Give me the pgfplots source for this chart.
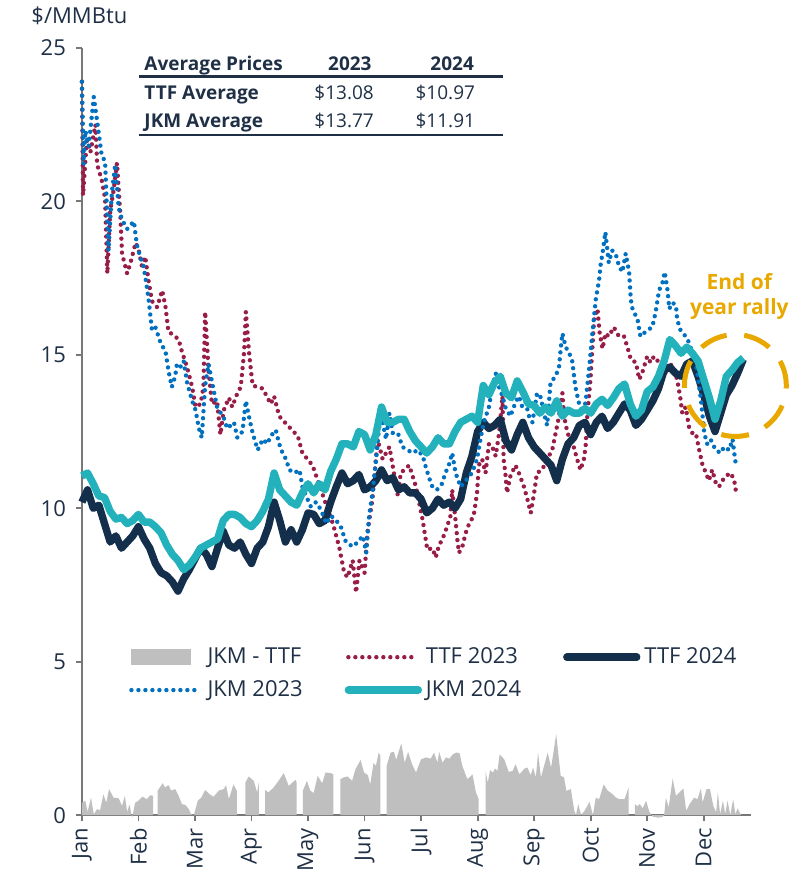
\documentclass[border=0pt]{standalone}
\usepackage{fontspec}
\setmainfont{Open Sans}
\usepackage{pgfplots}
\pgfplotsset{compat=1.18}

\definecolor{navy}{RGB}{20,47,75}
\definecolor{tealline}{RGB}{35,178,187}
\definecolor{maroonline}{RGB}{152,30,72}
\definecolor{blueline}{RGB}{0,112,192}
\definecolor{spreadgray}{RGB}{191,191,191}
\definecolor{gold}{RGB}{232,168,0}
\definecolor{txt}{RGB}{31,48,70}
\definecolor{axgray}{RGB}{120,120,120}

\tikzset{
  dotline/.style={line width=2.2pt, line cap=round, dash pattern=on 0pt off 3.5pt},
  thick24/.style={line width=3.7pt, line join=round}
}
\pgfplotsset{
  linelegend/.style={legend image code/.code={\draw[##1, line cap=round] (0pt,0pt) -- (35pt,0pt);}},
  arealegend/.style={legend image code/.code={\fill[spreadgray] (0pt,-4pt) rectangle (30pt,4pt);}}
}

\begin{document}
\begin{tikzpicture}
\begin{axis}[
  scale only axis, width=335pt, height=384pt,
  xmin=0, xmax=11.84, ymin=0, ymax=25,
  clip=false,
  axis x line*=bottom, axis y line*=left,
  axis line style={draw=axgray, line width=0.9pt, -},
  tick align=outside, major tick length=3pt,
  tick style={draw=axgray, line width=0.9pt},
  xtick={0,...,11},
  xticklabels={Jan,Feb,Mar,Apr,May,Jun,Jul,Aug,Sep,Oct,Nov,Dec},
  xticklabel style={rotate=90, anchor=east, font=\fontsize{11}{13}\selectfont, text=txt},
  ytick={0,5,10,15,20,25},
  yticklabel style={font=\fontsize{11}{13}\selectfont, text=txt, xshift=-1.5pt},
  /pgf/number format/assume math mode=true,
  legend columns=3,
  legend cell align=left,
  legend style={at={(axis cs:0.83,5.6)}, anchor=north west, draw=none, fill=none,
    font=\fontsize{11}{13}\selectfont, text=txt, inner sep=0pt, row sep=3pt,
    /tikz/every even column/.append style={column sep=19pt}},
]

% JKM - TTF spread (2024), split where days are missing
\addplot[draw=none, fill=spreadgray, arealegend]
  coordinates {(0.00,0.40)(0.06,0.47)(0.10,0.10)(0.16,0.57)(0.21,0.03)(0.27,0.20)(0.32,0.15)(0.38,0.68)(0.43,0.40)(0.48,0.85)(0.56,0.57)(0.65,0.55)(0.71,0.30)(0.76,0.63)(0.80,0.10)(0.84,0.35)(0.89,-0.08)(0.94,0.40)(1.00,0.47)(1.07,0.60)(1.15,0.52)(1.21,0.65)(1.26,0.63)} \closedcycle;
\addlegendentry{JKM - TTF}
\addplot[draw=none, fill=spreadgray, forget plot]
  coordinates {(1.34,0.80)(1.43,1.04)(1.47,0.90)(1.53,0.98)(1.58,0.80)(1.65,0.85)(1.71,0.63)(1.77,0.36)(1.83,0.33)(1.89,0.20)(1.93,0.03)(1.98,0.00)(2.05,0.47)(2.11,0.57)(2.18,0.82)(2.26,0.68)(2.33,0.60)(2.42,0.80)(2.51,0.85)(2.55,0.98)(2.60,0.52)(2.68,1.00)(2.74,0.80)} \closedcycle;
\addplot[draw=none, fill=spreadgray, forget plot]
  coordinates {(2.89,1.06)(2.95,1.26)(3.04,1.12)(3.10,0.74)(3.13,1.06)} \closedcycle;
\addplot[draw=none, fill=spreadgray, forget plot]
  coordinates {(3.24,0.82)(3.30,0.74)(3.39,0.90)(3.48,1.12)(3.57,1.37)(3.66,0.95)(3.72,1.06)(3.78,1.15)(3.80,1.06)} \closedcycle;
\addplot[draw=none, fill=spreadgray, forget plot]
  coordinates {(3.91,0.80)(3.98,1.12)(4.04,0.80)(4.10,0.72)(4.17,1.28)(4.25,1.04)(4.31,1.39)(4.40,1.37)(4.45,1.33)} \closedcycle;
\addplot[draw=none, fill=spreadgray, forget plot]
  coordinates {(4.57,1.17)(4.63,1.23)(4.70,1.26)(4.78,1.12)(4.84,1.50)(4.93,1.80)(4.99,1.39)(5.06,1.30)(5.10,1.00)(5.16,1.71)(5.20,1.60)(5.25,2.04)(5.28,1.93)} \closedcycle;
\addplot[draw=none, fill=spreadgray, forget plot]
  coordinates {(5.39,1.60)(5.46,2.04)(5.52,2.06)(5.56,1.80)(5.65,2.34)(5.71,1.71)(5.77,2.06)(5.84,1.66)(5.91,1.39)(6.00,1.82)(6.09,1.88)(6.17,1.84)(6.23,2.04)(6.29,1.71)(6.32,2.06)(6.38,1.71)(6.44,1.88)(6.50,1.84)(6.56,1.98)(6.62,2.04)(6.68,2.02)(6.73,1.60)(6.82,1.17)(6.91,1.33)(6.97,0.74)(7.02,0.52)} \closedcycle;
\addplot[draw=none, fill=spreadgray, forget plot]
  coordinates {(7.14,1.44)(7.18,1.06)(7.22,1.47)(7.27,1.39)(7.31,1.52)(7.35,1.44)(7.39,1.98)(7.47,1.82)(7.55,1.41)(7.62,1.44)(7.67,1.66)(7.74,1.33)(7.83,1.52)(7.88,1.55)(7.94,1.30)(7.98,1.55)(8.03,1.23)(8.07,2.04)(8.12,1.23)(8.24,2.04)(8.30,1.55)(8.39,2.64)(8.47,1.28)(8.53,1.23)(8.57,0.79)(8.65,0.85)(8.71,0.14)(8.74,0.00)(8.78,0.36)(8.83,0.00)(8.89,0.14)(8.98,0.43)(9.04,0.00)(9.09,0.57)(9.15,0.52)(9.23,1.00)(9.30,0.80)(9.39,0.68)(9.45,0.57)(9.51,0.52)(9.60,0.52)(9.67,0.90)} \closedcycle;
\addplot[draw=none, fill=spreadgray, forget plot]
  coordinates {(9.78,0.36)(9.83,0.29)(9.87,0.36)(9.92,0.22)(9.98,0.47)(10.04,0.10)(10.10,-0.05)(10.19,-0.08)(10.27,-0.06)(10.30,0.00)(10.33,0.57)(10.38,0.25)(10.45,1.19)(10.51,0.63)(10.57,0.74)(10.64,0.87)(10.69,0.14)(10.75,0.36)(10.83,0.57)(10.89,0.52)(10.95,0.87)(10.98,0.41)(11.05,0.85)(11.11,0.85)(11.17,0.30)(11.22,0.09)(11.25,0.74)(11.29,0.03)(11.34,0.47)(11.38,0.03)(11.42,0.47)(11.47,0.00)(11.52,0.52)(11.56,0.03)(11.60,0.22)(11.66,0.00)} \closedcycle;

% TTF 2023
\addplot[maroonline, dotline, linelegend]
  coordinates {(0.00,23.9)(0.02,20.2)(0.09,22.1)(0.15,21.6)(0.24,22.5)(0.27,21.2)(0.35,20.7)(0.41,20.1)(0.45,17.65)(0.50,19.7)(0.56,20.35)(0.62,21.25)(0.68,19.55)(0.71,18.3)(0.80,17.65)(0.86,18.0)(0.95,18.65)(1.00,18.45)(1.06,17.9)(1.12,18.2)(1.18,17.4)(1.24,16.75)(1.33,16.55)(1.42,17.1)(1.48,16.55)(1.53,15.75)(1.62,15.65)(1.71,15.5)(1.77,15.1)(1.86,14.6)(1.95,13.95)(2.01,13.3)(2.10,13.4)(2.15,13.95)(2.18,16.4)(2.24,14.5)(2.30,13.4)(2.39,13.5)(2.45,12.4)(2.51,13.2)(2.60,13.6)(2.66,13.3)(2.75,13.75)(2.81,13.95)(2.87,15.1)(2.90,16.4)(2.96,15.0)(3.02,14.0)(3.20,13.9)(3.34,13.4)(3.40,13.65)(3.49,13.0)(3.64,12.7)(3.82,12.35)(3.90,11.8)(4.08,11.4)(4.23,10.6)(4.35,9.95)(4.44,9.5)(4.55,8.75)(4.64,7.9)(4.70,7.75)(4.79,8.3)(4.85,7.25)(4.91,8.3)(5.00,7.9)(5.05,9.2)(5.14,10.3)(5.23,12.25)(5.32,11.6)(5.44,12.0)(5.59,10.4)(5.64,11.15)(5.79,11.4)(5.91,10.7)(6.03,9.6)(6.11,8.65)(6.20,8.7)(6.26,8.4)(6.31,8.75)(6.40,9.1)(6.46,9.4)(6.52,9.75)(6.55,10.6)(6.61,9.6)(6.64,9.0)(6.67,8.55)(6.73,8.75)(6.79,9.2)(6.85,9.5)(6.93,9.75)(6.99,10.5)(7.02,11.4)(7.08,11.6)(7.14,11.15)(7.20,12.1)(7.26,12.0)(7.32,11.7)(7.38,12.45)(7.44,13.65)(7.46,11.6)(7.49,11.15)(7.52,10.5)(7.58,11.05)(7.67,11.4)(7.73,11.15)(7.82,10.7)(7.88,10.3)(7.94,9.85)(8.00,10.5)(8.05,11.15)(8.14,11.25)(8.23,11.6)(8.32,11.9)(8.38,12.45)(8.44,13.0)(8.50,13.75)(8.53,13.0)(8.59,12.45)(8.64,12.25)(8.70,12.0)(8.76,11.6)(8.82,11.25)(8.88,11.6)(8.91,12.0)(8.94,13.0)(9.00,14.3)(9.06,16.15)(9.12,16.5)(9.16,15.7)(9.21,15.2)(9.26,15.7)(9.32,15.6)(9.41,15.9)(9.50,15.6)(9.59,15.6)(9.65,15.25)(9.71,14.85)(9.80,14.75)(9.86,14.2)(9.91,14.4)(10.00,14.95)(10.06,14.75)(10.12,14.95)(10.21,14.75)(10.30,14.3)(10.39,14.75)(10.45,14.6)(10.53,14.2)(10.59,13.55)(10.62,13.1)(10.68,13.3)(10.74,12.65)(10.80,12.45)(10.86,12.45)(10.92,11.9)(10.98,11.4)(11.04,11.15)(11.09,10.9)(11.15,11.25)(11.21,10.85)(11.27,10.7)(11.33,10.9)(11.39,11.05)(11.48,11.15)(11.54,10.9)(11.57,10.55)};
\addlegendentry{TTF 2023}

% TTF 2024
\addplot[navy, thick24, linelegend]
  coordinates {(0.0,10.2)(0.1,10.6)(0.2,10.0)(0.3,10.1)(0.4,9.5)(0.5,8.9)(0.6,9.1)(0.7,8.7)(0.8,8.9)(0.9,9.1)
  (1.0,9.4)(1.1,9.0)(1.2,8.7)(1.3,8.2)(1.4,7.9)(1.5,7.8)(1.6,7.6)(1.7,7.3)(1.8,7.7)(1.9,8.0)
  (2.0,8.35)(2.1,8.7)(2.2,8.5)(2.3,8.1)(2.4,8.7)(2.5,9.25)(2.6,8.8)(2.7,8.7)(2.8,8.9)(2.9,8.5)
  (3.0,8.2)(3.1,8.7)(3.2,8.9)(3.3,9.4)(3.4,10.2)(3.5,9.6)(3.6,8.9)(3.7,9.3)(3.8,8.9)(3.9,9.3)
  (4.0,9.85)(4.1,9.8)(4.2,9.5)(4.3,9.6)(4.4,10.2)(4.5,10.7)(4.6,11.15)(4.7,10.8)(4.8,10.9)(4.9,11.1)
  (5.0,10.6)(5.1,10.7)(5.2,10.9)(5.3,11.25)(5.4,10.9)(5.5,11.0)(5.6,10.6)(5.7,10.7)(5.8,10.5)(5.9,10.5)
  (6.0,10.3)(6.1,9.85)(6.2,10.0)(6.3,10.3)(6.4,10.1)(6.5,10.2)(6.6,10.0)(6.7,10.3)(6.8,11.15)(6.9,11.7)
  (7.0,12.5)(7.1,12.8)(7.2,12.6)(7.3,12.7)(7.4,12.9)(7.5,12.2)(7.6,11.9)(7.7,12.4)(7.8,12.8)(7.9,12.3)
  (8.0,12.0)(8.1,11.8)(8.2,11.6)(8.3,11.4)(8.4,10.9)(8.5,11.6)(8.6,12.1)(8.7,12.3)(8.8,12.7)(8.9,12.8)
  (9.0,12.4)(9.1,12.8)(9.2,13.0)(9.3,12.6)(9.4,12.8)(9.5,13.1)(9.6,13.4)(9.7,13.2)(9.8,12.7)(9.9,12.9)
  (10.0,13.2)(10.1,13.5)(10.2,13.9)(10.3,14.5)(10.4,14.6)(10.5,14.4)(10.6,14.3)(10.7,14.7)(10.8,14.8)(10.9,14.3)
  (11.0,13.7)(11.1,13.0)(11.2,12.5)(11.3,13.1)(11.4,13.7)(11.5,14.0)(11.6,14.4)(11.7,14.85)};
\addlegendentry{TTF 2024}

% JKM 2023
\addplot[blueline, dotline, linelegend]
  coordinates {(0.00,23.9)(0.03,21.2)(0.06,22.3)(0.12,21.8)(0.21,23.4)(0.27,22.6)(0.35,21.5)(0.41,21.3)(0.47,18.4)(0.53,20.3)(0.59,21.2)(0.65,19.8)(0.71,19.4)(0.80,19.1)(0.92,19.35)(0.97,18.6)(1.03,18.2)(1.09,17.9)(1.15,17.2)(1.18,16.8)(1.24,15.8)(1.30,15.9)(1.39,15.4)(1.48,15.1)(1.53,14.5)(1.59,13.95)(1.65,14.3)(1.68,14.7)(1.74,14.6)(1.80,14.8)(1.86,14.1)(1.95,13.5)(2.01,13.2)(2.07,12.6)(2.12,12.3)(2.18,14.0)(2.24,14.7)(2.33,13.85)(2.39,13.3)(2.51,12.95)(2.57,12.6)(2.69,12.8)(2.75,12.3)(2.84,12.5)(2.90,13.5)(2.96,12.95)(3.02,12.45)(3.11,11.9)(3.20,12.25)(3.28,12.1)(3.34,12.35)(3.43,12.55)(3.49,12.1)(3.55,11.8)(3.61,11.6)(3.67,11.25)(3.76,11.15)(3.85,11.25)(3.90,10.7)(3.99,10.3)(4.05,10.05)(4.14,10.2)(4.23,9.95)(4.32,9.5)(4.41,9.75)(4.50,9.6)(4.58,9.4)(4.67,8.9)(4.79,8.75)(4.88,8.9)(4.97,9.1)(5.03,8.55)(5.08,9.75)(5.14,10.5)(5.20,11.5)(5.26,12.7)(5.32,12.8)(5.38,12.25)(5.44,13.1)(5.50,12.45)(5.59,12.45)(5.67,12.0)(5.76,11.9)(5.85,11.8)(5.94,11.9)(6.03,11.7)(6.09,11.3)(6.15,10.95)(6.20,10.7)(6.28,10.6)(6.37,10.8)(6.43,11.15)(6.49,11.4)(6.55,11.8)(6.61,11.15)(6.70,10.7)(6.79,10.9)(6.90,11.15)(6.99,11.6)(7.05,12.25)(7.11,12.8)(7.20,13.3)(7.26,13.95)(7.32,14.4)(7.38,13.95)(7.44,13.65)(7.49,13.3)(7.58,13.0)(7.67,13.45)(7.73,13.65)(7.79,13.3)(7.85,13.45)(7.91,13.0)(7.97,12.8)(8.05,13.75)(8.11,13.65)(8.20,12.9)(8.23,12.7)(8.29,14.1)(8.38,14.3)(8.44,14.6)(8.47,15.2)(8.50,15.7)(8.56,15.25)(8.62,15.05)(8.67,14.85)(8.73,13.95)(8.79,13.45)(8.85,13.1)(8.91,13.45)(8.97,14.5)(9.03,15.7)(9.09,16.8)(9.15,17.45)(9.18,18.0)(9.21,18.3)(9.26,19.0)(9.29,18.5)(9.32,18.0)(9.38,18.4)(9.44,18.3)(9.50,17.9)(9.56,17.7)(9.62,18.3)(9.68,17.7)(9.71,16.8)(9.74,16.5)(9.83,16.15)(9.88,15.6)(10.00,15.8)(10.09,15.9)(10.15,16.4)(10.21,17.1)(10.27,17.35)(10.31,17.7)(10.36,17.1)(10.39,16.5)(10.45,16.7)(10.51,16.6)(10.53,16.15)(10.59,15.8)(10.68,15.6)(10.74,15.4)(10.80,15.05)(10.86,14.75)(10.92,13.95)(10.95,13.55)(10.98,13.0)(11.01,12.45)(11.06,12.1)(11.12,12.25)(11.21,11.9)(11.30,11.8)(11.36,12.0)(11.45,11.9)(11.51,12.25)(11.54,11.8)(11.57,11.4)};
\addlegendentry{JKM 2023}

% JKM 2024
\addplot[tealline, thick24, linelegend]
  coordinates {(0.0,11.05)(0.1,11.15)(0.2,10.8)(0.3,10.4)(0.4,10.35)(0.5,9.9)(0.6,9.65)(0.7,9.7)(0.8,9.5)(0.9,9.6)
  (1.0,9.8)(1.1,9.55)(1.2,9.55)(1.3,9.4)(1.4,9.2)(1.5,8.8)(1.6,8.5)(1.7,8.3)(1.8,8.0)(1.9,8.15)
  (2.0,8.4)(2.1,8.7)(2.2,8.8)(2.3,8.9)(2.4,9.0)(2.5,9.6)(2.6,9.8)(2.7,9.8)(2.8,9.7)(2.9,9.5)
  (3.0,9.4)(3.1,9.6)(3.2,9.9)(3.3,10.3)(3.4,11.15)(3.5,10.6)(3.6,10.4)(3.7,10.2)(3.8,10.1)(3.9,10.5)
  (4.0,10.8)(4.1,10.5)(4.2,10.8)(4.3,10.6)(4.4,11.2)(4.5,11.6)(4.6,12.1)(4.7,12.1)(4.8,12.0)(4.9,12.5)
  (5.0,12.4)(5.1,11.9)(5.2,12.4)(5.3,13.3)(5.4,12.8)(5.5,12.8)(5.6,12.9)(5.7,12.9)(5.8,12.5)(5.9,12.2)
  (6.0,12.0)(6.1,11.8)(6.2,12.0)(6.3,12.3)(6.4,12.1)(6.5,12.1)(6.6,12.5)(6.7,12.8)(6.8,12.9)(6.9,13.0)
  (7.0,12.8)(7.1,14.0)(7.2,13.7)(7.3,14.1)(7.4,14.3)(7.5,13.75)(7.6,13.6)(7.7,14.15)(7.8,13.8)(7.9,13.4)
  (8.0,13.35)(8.1,13.1)(8.2,13.3)(8.3,13.1)(8.4,13.5)(8.5,13.0)(8.6,13.2)(8.7,13.1)(8.8,13.1)(8.9,13.25)
  (9.0,13.1)(9.1,13.4)(9.2,13.55)(9.3,13.35)(9.4,13.6)(9.5,13.9)(9.6,14.05)(9.7,13.4)(9.8,13.0)(9.9,13.2)
  (10.0,13.8)(10.1,13.95)(10.2,14.3)(10.3,14.8)(10.4,15.5)(10.5,15.3)(10.6,15.05)(10.7,15.25)(10.8,15.05)(10.9,14.8)
  (11.0,14.2)(11.1,13.6)(11.2,12.9)(11.3,13.5)(11.4,14.3)(11.5,14.5)(11.6,14.75)(11.7,14.9)};
\addlegendentry{JKM 2024}

% unit label
\node[anchor=base west, inner sep=0pt, text=txt, font=\fontsize{11}{13}\selectfont]
  at (axis cs:-0.90,25.81) {\$/MMBtu};

% average price table
\begin{scope}[every node/.style={inner sep=0pt, text=txt, font=\fontsize{9.5}{11}\selectfont}]
\node[anchor=base west, font=\fontsize{9.5}{11}\selectfont\bfseries] at (axis cs:1.10,24.28) {Average Prices};
\node[anchor=base east, font=\fontsize{9.5}{11}\selectfont\bfseries] at (axis cs:5.13,24.28) {2023};
\node[anchor=base east, font=\fontsize{9.5}{11}\selectfont\bfseries] at (axis cs:6.94,24.28) {2024};
\node[anchor=base west, font=\fontsize{9.5}{11}\selectfont\bfseries] at (axis cs:1.10,23.31) {TTF Average};
\node[anchor=base east] at (axis cs:5.17,23.31) {\$13.08};
\node[anchor=base east] at (axis cs:6.96,23.31) {\$10.97};
\node[anchor=base west, font=\fontsize{9.5}{11}\selectfont\bfseries] at (axis cs:1.10,22.40) {JKM Average};
\node[anchor=base east] at (axis cs:5.17,22.40) {\$13.77};
\node[anchor=base east] at (axis cs:6.96,22.40) {\$11.91};
\end{scope}
\draw[txt, line width=1.1pt] (axis cs:1.01,24.07) -- (axis cs:7.45,24.07);
\draw[txt, line width=1.1pt] (axis cs:1.01,22.17) -- (axis cs:7.45,22.17);

% annotation
\draw[gold, line width=2.5pt, dash pattern=on 14pt off 8.85pt, dash phase=1.25pt]
  (axis cs:11.56,14.0) circle[radius=25.5pt];
\node[anchor=base, inner sep=0pt, text=gold, font=\fontsize{10.5}{12}\selectfont\bfseries]
  at (axis cs:11.63,17.12) {End of};
\node[anchor=base, inner sep=0pt, text=gold, font=\fontsize{10.5}{12}\selectfont\bfseries]
  at (axis cs:11.63,16.31) {year rally};
\end{axis}
% page frame matching the reference
\path (current axis.south west) ++(-41pt,-31pt) coordinate (bbsw);
\path (current axis.north east) ++(25pt,24pt) coordinate (bbne);
\path (bbsw) rectangle (bbne);
\end{tikzpicture}
\end{document}
